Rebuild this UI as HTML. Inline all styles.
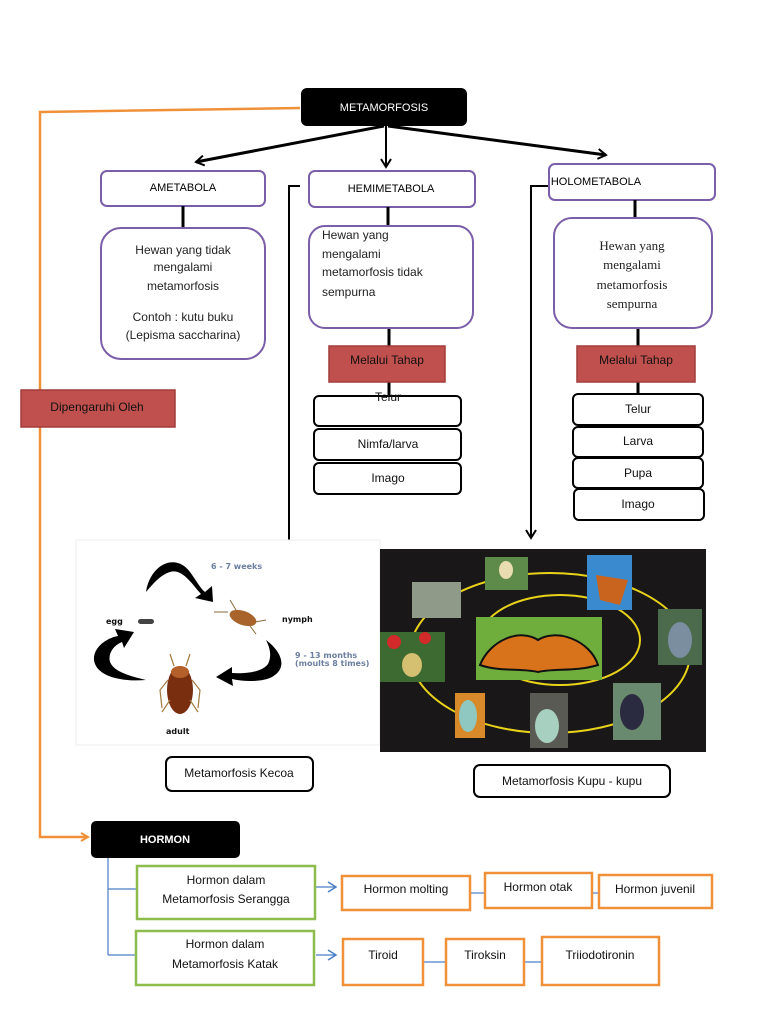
<!DOCTYPE html>
<html><head><meta charset="utf-8"><style>
html,body{margin:0;padding:0;background:#fff;}
svg{display:block;font-family:"Liberation Sans",sans-serif;}
</style></head><body>
<svg width="768" height="1024" viewBox="0 0 768 1024" xmlns="http://www.w3.org/2000/svg">
<defs>
<marker id="oa" markerWidth="10" markerHeight="10" refX="8" refY="5" orient="auto" markerUnits="userSpaceOnUse"><path d="M1,1 L8,5 L1,9" fill="none" stroke="#f0913a" stroke-width="2"/></marker>
<marker id="ba" markerWidth="12" markerHeight="12" refX="9" refY="6" orient="auto" markerUnits="userSpaceOnUse"><path d="M1,1 L9,6 L1,11" fill="none" stroke="#000" stroke-width="2"/></marker>
<marker id="bl" markerWidth="12" markerHeight="12" refX="9" refY="6" orient="auto" markerUnits="userSpaceOnUse"><path d="M1,1 L9,6 L1,11" fill="none" stroke="#4a7fc6" stroke-width="1.5"/></marker>
</defs>

<!-- orange connector -->
<polyline points="300,108 40,112 40,837 88,837" fill="none" stroke="#f0913a" stroke-width="2.5" marker-end="url(#oa)"/>

<!-- top arrows -->
<line x1="384" y1="126" x2="196" y2="162" stroke="#000" stroke-width="3" marker-end="url(#ba)"/>
<line x1="386" y1="126" x2="386" y2="167" stroke="#000" stroke-width="2" marker-end="url(#ba)"/>
<line x1="388" y1="126" x2="606" y2="155" stroke="#000" stroke-width="3" marker-end="url(#ba)"/>

<!-- METAMORFOSIS -->
<rect x="301" y="88" width="166" height="38" rx="6" fill="#000"/>
<text x="384" y="108" font-size="11" fill="#fff" text-anchor="middle" dominant-baseline="middle">METAMORFOSIS</text>

<!-- level-1 boxes -->
<g fill="#fff" stroke="#7a5ea8" stroke-width="2">
<rect x="101" y="171" width="164" height="35" rx="6"/>
<rect x="309" y="171" width="166" height="36" rx="6"/>
<rect x="549" y="164" width="166" height="36" rx="6"/>
</g>
<g font-size="11" fill="#000" text-anchor="middle" dominant-baseline="middle">
<text x="183" y="188">AMETABOLA</text>
<text x="391" y="189">HEMIMETABOLA</text>
<text x="596" y="182">HOLOMETABOLA</text>
</g>

<!-- connectors -->
<g stroke="#000" stroke-width="3">
<line x1="183" y1="206" x2="183" y2="228"/>
<line x1="388" y1="207" x2="388" y2="226"/>
<line x1="635" y1="200" x2="635" y2="218"/>
<line x1="389" y1="328" x2="389" y2="346"/>
<line x1="389" y1="382" x2="389" y2="396"/>
<line x1="638" y1="328" x2="638" y2="346"/>
<line x1="638" y1="382" x2="638" y2="394"/>
</g>

<!-- description boxes -->
<g fill="#fff" stroke="#7a5ea8" stroke-width="2">
<rect x="101" y="228" width="164" height="131" rx="20"/>
<rect x="309" y="226" width="164" height="102" rx="16"/>
<rect x="554" y="218" width="158" height="110" rx="18"/>
</g>
<g font-size="12" fill="#222" text-anchor="middle">
<text x="183" y="254">Hewan yang tidak</text>
<text x="183" y="271">mengalami</text>
<text x="183" y="290">metamorfosis</text>
<text x="183" y="321">Contoh : kutu buku</text>
<text x="183" y="339">(Lepisma saccharina)</text>
</g>
<g font-size="12" fill="#222">
<text x="322" y="239">Hewan yang</text>
<text x="322" y="258">mengalami</text>
<text x="322" y="276">metamorfosis tidak</text>
<text x="322" y="296">sempurna</text>
</g>
<g font-size="13" fill="#222" text-anchor="middle" font-family="Liberation Serif,serif">
<text x="632" y="250">Hewan yang</text>
<text x="632" y="269">mengalami</text>
<text x="632" y="289">metamorfosis</text>
<text x="632" y="308">sempurna</text>
</g>

<!-- red boxes -->
<g fill="#c0504d" stroke="#a33c39" stroke-width="1.5">
<rect x="329" y="346" width="116" height="36"/>
<rect x="577" y="346" width="118" height="36"/>
<rect x="21" y="390" width="154" height="37"/>
</g>
<g font-size="12" fill="#111" text-anchor="middle" dominant-baseline="middle">
<text x="387" y="361">Melalui Tahap</text>
<text x="636" y="361">Melalui Tahap</text>
<text x="97" y="408">Dipengaruhi Oleh</text>
</g>

<!-- stages -->
<g fill="#fff" stroke="#000" stroke-width="2">
<rect x="314" y="396" width="147" height="30" rx="5"/>
<rect x="314" y="429" width="147" height="31" rx="5"/>
<rect x="314" y="463" width="147" height="31" rx="5"/>
<rect x="573" y="394" width="130" height="31" rx="5"/>
<rect x="573" y="427" width="130" height="30" rx="5"/>
<rect x="573" y="458" width="130" height="30" rx="5"/>
<rect x="574" y="489" width="130" height="31" rx="5"/>
</g>
<g font-size="12" fill="#111" text-anchor="middle" dominant-baseline="middle">
<text x="388" y="398">Telur</text>
<text x="388" y="445">Nimfa/larva</text>
<text x="388" y="479">Imago</text>
<text x="638" y="410">Telur</text>
<text x="638" y="442">Larva</text>
<text x="638" y="474">Pupa</text>
<text x="638" y="505">Imago</text>
</g>

<!-- side lines -->
<polyline points="300,186 289,186 289,565 282,565" fill="none" stroke="#000" stroke-width="2" marker-end="url(#ba)"/>
<polyline points="548,186 531,186 531,538" fill="none" stroke="#000" stroke-width="2" marker-end="url(#ba)"/>

<!-- cockroach image -->
<rect x="76" y="540" width="304" height="205" fill="#fff" stroke="#eee"/>
<g fill="#000">
<path d="M146,592 C150,565 175,552 190,572 C196,580 200,588 205,592 L212,586 L213,602 L195,598 L201,594 C192,584 182,568 170,572 C160,575 152,585 146,592 Z"/>
<path d="M266,640 C282,652 288,668 272,677 C262,682 245,682 232,679 L233,686 L216,677 L232,667 L232,673 C246,674 262,672 268,664 C272,656 270,648 266,640 Z"/>
<path d="M146,680 C120,682 96,676 94,660 C93,648 106,638 118,636 L115,629 L134,632 L124,648 L122,642 C112,646 108,655 110,662 C114,672 130,676 146,680 Z"/>
</g>
<rect x="138" y="619" width="16" height="5" rx="2.5" fill="#444"/>
<ellipse cx="243" cy="618" rx="14" ry="7" fill="#a8642a" transform="rotate(20 243 618)"/>
<g stroke="#8a6a3a" stroke-width="1"><line x1="228" y1="612" x2="214" y2="612"/><line x1="236" y1="610" x2="230" y2="600"/><line x1="255" y1="622" x2="266" y2="620"/><line x1="250" y1="626" x2="256" y2="634"/></g>
<ellipse cx="180" cy="690" rx="13" ry="24" fill="#7a2e10"/>
<ellipse cx="180" cy="672" rx="9" ry="6" fill="#b5602a"/>
<g stroke="#a07a40" stroke-width="1.2" fill="none"><path d="M168,680 L160,690 L162,708"/><path d="M192,680 L200,690 L198,708"/><path d="M170,700 L162,712"/><path d="M190,700 L198,712"/><path d="M174,666 L170,654"/><path d="M186,666 L190,654"/></g>
<g font-size="8" font-weight="bold" font-family="DejaVu Sans,sans-serif">
<text x="211" y="569" fill="#6b7fa0">6 - 7 weeks</text>
<text x="282" y="622" fill="#111">nymph</text>
<text x="106" y="624" fill="#111">egg</text>
<text x="295" y="658" fill="#6b7fa0">9 - 13 months</text>
<text x="295" y="666" fill="#6b7fa0">(moults 8 times)</text>
<text x="166" y="734" fill="#111">adult</text>
</g>

<!-- butterfly image -->
<rect x="380" y="549" width="326" height="203" fill="#1a1718"/>
<ellipse cx="550" cy="653" rx="140" ry="80" fill="none" stroke="#e8d31a" stroke-width="2"/>
<ellipse cx="560" cy="640" rx="80" ry="45" fill="none" stroke="#e8d31a" stroke-width="2"/>
<rect x="485" y="557" width="43" height="33" fill="#5e8a4a"/>
<ellipse cx="506" cy="570" rx="7" ry="9" fill="#e8dcb0"/>
<rect x="412" y="582" width="49" height="36" fill="#8f9a88"/>
<rect x="587" y="555" width="45" height="55" fill="#3a8ad0"/>
<path d="M596,575 L628,580 L620,605 L600,600 Z" fill="#c8641e"/>
<rect x="658" y="609" width="44" height="56" fill="#4c6a4c"/>
<ellipse cx="680" cy="640" rx="12" ry="18" fill="#7a8ea0"/>
<rect x="476" y="617" width="126" height="63" fill="#6fae3c"/>
<path d="M480,665 C490,640 520,628 538,640 C556,628 590,640 598,665 C575,672 555,668 538,672 C520,668 500,672 480,665 Z" fill="#d8731c" stroke="#111" stroke-width="2"/>
<rect x="380" y="632" width="65" height="50" fill="#3c6a30"/>
<circle cx="394" cy="642" r="7" fill="#d22a2a"/><circle cx="425" cy="638" r="6" fill="#d22a2a"/>
<ellipse cx="412" cy="665" rx="10" ry="12" fill="#d4c070"/>
<rect x="455" y="693" width="30" height="45" fill="#d88a2a"/>
<ellipse cx="468" cy="716" rx="9" ry="16" fill="#8fc8c0"/>
<rect x="530" y="693" width="38" height="55" fill="#5a5a55"/>
<ellipse cx="547" cy="726" rx="12" ry="17" fill="#a8d0c0"/>
<rect x="613" y="683" width="48" height="57" fill="#6a8a70"/>
<ellipse cx="632" cy="712" rx="12" ry="18" fill="#2a2a40"/>

<!-- captions -->
<g fill="#fff" stroke="#000" stroke-width="2">
<rect x="166" y="757" width="147" height="34" rx="6"/>
<rect x="474" y="765" width="196" height="32" rx="6"/>
</g>
<g font-size="12" fill="#111" text-anchor="middle" dominant-baseline="middle">
<text x="239" y="774">Metamorfosis Kecoa</text>
<text x="572" y="782">Metamorfosis Kupu - kupu</text>
</g>

<!-- HORMON -->
<rect x="91" y="821" width="149" height="37" rx="5" fill="#000"/>
<text x="165" y="840" font-size="11" font-weight="bold" fill="#fff" text-anchor="middle" dominant-baseline="middle">HORMON</text>

<polyline points="108,858 108,955" fill="none" stroke="#4a7fc6" stroke-width="1.2"/>
<line x1="108" y1="889" x2="137" y2="889" stroke="#4a7fc6" stroke-width="1.2"/>
<line x1="108" y1="955" x2="137" y2="955" stroke="#4a7fc6" stroke-width="1.2"/>
<line x1="316" y1="887" x2="336" y2="887" stroke="#4a7fc6" stroke-width="1.2" marker-end="url(#bl)"/>
<line x1="316" y1="955" x2="336" y2="955" stroke="#4a7fc6" stroke-width="1.2" marker-end="url(#bl)"/>
<g stroke="#4a7fc6" stroke-width="1.2">
<line x1="470" y1="893" x2="485" y2="893"/><line x1="592" y1="893" x2="598" y2="893"/>
<line x1="423" y1="962" x2="446" y2="962"/><line x1="524" y1="962" x2="541" y2="962"/>
</g>

<g fill="#fff" stroke="#8dbb4c" stroke-width="2.5">
<rect x="137" y="866" width="178" height="53"/>
<rect x="136" y="931" width="178" height="54"/>
</g>
<g fill="#fff" stroke="#f0913a" stroke-width="2.5">
<rect x="342" y="876" width="128" height="34"/>
<rect x="485" y="873" width="107" height="35"/>
<rect x="599" y="875" width="113" height="33"/>
<rect x="343" y="939" width="80" height="46"/>
<rect x="446" y="939" width="78" height="46"/>
<rect x="542" y="937" width="117" height="48"/>
</g>
<g font-size="12" fill="#111" text-anchor="middle">
<text x="226" y="884">Hormon dalam</text>
<text x="226" y="903">Metamorfosis Serangga</text>
<text x="225" y="948">Hormon dalam</text>
<text x="225" y="968">Metamorfosis Katak</text>
<text x="406" y="893">Hormon molting</text>
<text x="538" y="891">Hormon otak</text>
<text x="655" y="893">Hormon juvenil</text>
<text x="383" y="959">Tiroid</text>
<text x="485" y="959">Tiroksin</text>
<text x="600" y="959">Triiodotironin</text>
</g>
</svg>
</body></html>
